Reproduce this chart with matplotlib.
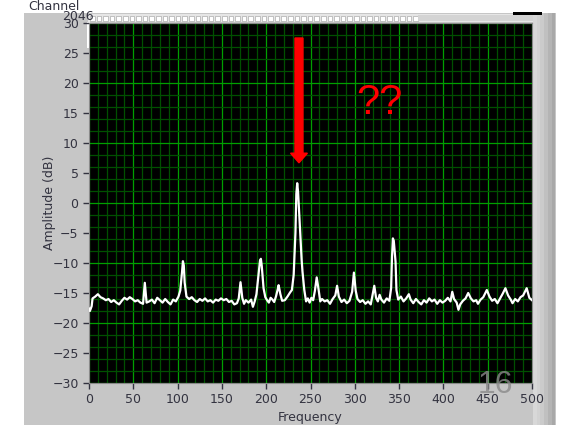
import matplotlib
matplotlib.use("Agg")
import matplotlib.pyplot as plt
from matplotlib.patches import Rectangle, FancyArrow
import numpy as np

# spectrum trace (Hz, dB)
freq = [0, 1, 3, 4, 7, 10, 13, 16, 19, 22, 25, 28, 31, 34, 37, 40, 43, 46, 49, 52,
        55, 58, 61, 63, 65, 68, 71, 74, 77, 80, 83, 86, 89, 92, 95, 98, 101, 103, 105, 106,
        107, 108, 110, 113, 116, 119, 122, 125, 128, 131, 134, 137, 140, 143, 146, 149, 152, 155, 158, 161,
        164, 167, 169, 171, 173, 175, 177, 180, 183, 185, 187, 189, 191, 193, 194, 195, 197, 199, 201, 203,
        205, 207, 209, 211, 213, 214, 216, 218, 221, 224, 227, 229, 231, 233, 234, 235, 236, 238, 240, 241,
        243, 245, 247, 249, 251, 253, 255, 257, 259, 261, 263, 266, 269, 272, 275, 278, 280, 282, 285, 288,
        291, 294, 297, 299, 301, 303, 306, 309, 312, 315, 318, 320, 322, 324, 326, 328, 330, 333, 336, 339,
        341, 342, 343, 344, 346, 347, 349, 352, 355, 358, 361, 363, 366, 369, 372, 375, 378, 381, 384, 387,
        390, 393, 396, 399, 402, 405, 408, 410, 412, 415, 417, 419, 422, 425, 428, 431, 434, 437, 439, 442,
        445, 449, 452, 455, 458, 461, 464, 467, 470, 473, 476, 478, 481, 484, 487, 490, 494, 497, 500]
amp = [-17.6, -18.0, -17.2, -15.9, -15.6, -15.2, -15.7, -15.9, -16.2, -16.0, -16.5, -16.2, -16.6, -16.9, -16.3, -15.8, -16.1, -15.7, -16.0, -16.4,
       -16.2, -16.6, -16.8, -13.3, -16.6, -16.4, -16.1, -16.7, -15.8, -16.2, -16.6, -16.0, -16.5, -16.9, -16.1, -16.4, -15.6, -14.6, -11.5, -9.7,
       -10.4, -13.3, -15.6, -16.0, -15.7, -16.2, -16.5, -16.0, -16.3, -15.9, -16.4, -16.2, -16.6, -16.1, -16.3, -15.9, -16.2, -16.0, -16.5, -16.3,
       -16.9, -16.7, -15.9, -13.2, -15.8, -16.8, -16.2, -16.6, -16.1, -17.3, -16.4, -15.2, -12.4, -9.6, -9.3, -10.5, -14.2, -15.7, -16.2, -16.6,
       -15.8, -16.1, -16.5, -15.6, -14.4, -13.7, -15.2, -16.3, -16.2, -15.6, -14.9, -14.5, -12.0, -5.0, 1.5, 3.3, 1.8, -4.0, -9.5, -11.5,
       -14.5, -16.4, -15.9, -16.6, -15.8, -16.2, -14.6, -12.4, -14.3, -16.4, -16.0, -16.4, -16.2, -16.8, -16.0, -15.4, -13.8, -15.6, -16.5, -16.1,
       -16.7, -16.3, -14.8, -11.6, -14.6, -16.0, -16.5, -16.2, -16.8, -16.4, -16.9, -15.3, -13.8, -15.8, -16.4, -15.3, -16.1, -16.6, -15.9, -16.3,
       -14.2, -9.0, -5.9, -6.3, -9.8, -14.5, -16.1, -15.6, -16.4, -15.9, -15.2, -16.1, -16.7, -16.0, -16.5, -16.9, -16.2, -16.6, -15.9, -16.4,
       -16.1, -16.8, -16.2, -16.6, -16.3, -15.8, -16.4, -14.8, -16.0, -16.6, -17.8, -16.9, -16.3, -15.9, -15.0, -15.9, -16.4, -16.2, -16.8, -16.1,
       -15.7, -14.5, -15.6, -16.3, -16.0, -16.7, -15.9, -15.1, -14.2, -15.4, -16.1, -16.7, -16.0, -16.4, -15.7, -15.4, -14.2, -15.8, -16.2]

x_ticks = list(range(0, 501, 50))
y_ticks = list(range(-30, 31, 5))

W, H = 564, 425
fig = plt.figure(figsize=(W / 100, H / 100), dpi=100)
fig.patch.set_facecolor("white")

def px_rect(x0, y0, x1, y1, **kw):
    # rectangle given in pixel coords measured from the top-left corner
    r = Rectangle((x0 / W, 1 - y1 / H), (x1 - x0) / W, (y1 - y0) / H,
                  transform=fig.transFigure, zorder=-5, **kw)
    fig.patches.append(r)

# LabVIEW-style panel
px_rect(24, 13, 556, 425, facecolor="#c6c6c6", edgecolor="none")
for i, c in enumerate(["#d8d8d8", "#d2d2d2", "#cbcbcb", "#c0c0c0", "#b4b4b4", "#a8a8a8"]):
    px_rect(533 + i * 3.7, 13, 533 + (i + 1) * 3.7, 425, facecolor=c, edgecolor="none")
# scrollbar strip at the top
px_rect(88, 14, 533, 22, facecolor="#e6e6e6", edgecolor="none")
for xs in np.arange(90, 418, 6.6):
    px_rect(xs, 15.5, xs + 4.6, 21, facecolor="white", edgecolor="#9a9a9a", linewidth=0.4)
px_rect(418, 15, 533, 21, facecolor="#d4d4d4", edgecolor="none")
px_rect(513, 12, 542, 14.5, facecolor="black", edgecolor="none")
# left scale bar of the graph
px_rect(87, 22, 90, 48, facecolor="white", edgecolor="none")
fig.text(28 / W, 1 - 6 / H, "Channel", fontsize=9, color="#333340", va="center", ha="left")
fig.text(62 / W, 1 - 16 / H, "2046", fontsize=9, color="#333340", va="center", ha="left")

ax = fig.add_axes([89 / W, 1 - 383 / H, 443 / W, 360 / H])
ax.set_facecolor("black")

# grid: majors every 50 Hz / 10 dB, minors every 10 Hz / 2 dB
for f in range(0, 501, 10):
    ax.axvline(f, color="#00a000" if f % 50 == 0 else "#005000", lw=0.9, zorder=1)
for a in range(-30, 31, 2):
    ax.axhline(a, color="#00a000" if a % 10 == 0 else "#005000", lw=0.9, zorder=1)

ax.plot(freq, amp, color="white", lw=1.6, zorder=3)

ax.set_xlim(0, 500)
ax.set_ylim(-30, 30)
ax.set_xticks(x_ticks)
ax.set_yticks(y_ticks)
ax.tick_params(colors="#333340", labelsize=9, length=4, width=1)
for s in ax.spines.values():
    s.set_color("#8a8a8a")
ax.set_xlabel("Frequency", fontsize=9, color="#333340", labelpad=3)
ax.set_ylabel("Amplitude (dB)", fontsize=9, color="#333340")
ax.yaxis.set_label_coords(-0.075, 0.5)

# annotation arrow pointing at the main peak
arrow = FancyArrow(237, 27.5, 0, -19.2, width=9, head_width=19, head_length=1.6,
                   length_includes_head=False, color="#ff0000", zorder=5)
ax.add_patch(arrow)
ax.text(328, 16.7, "??", color="#ff0000", fontsize=30, family="Liberation Sans",
        ha="center", va="center", zorder=5)

fig.text(495 / W, 1 - 385 / H, "16", fontsize=23, color="#8a8a8a", alpha=0.8,
         family="Liberation Sans", ha="center", va="center")

fig.savefig("out.png", dpi=100, facecolor=fig.get_facecolor())
